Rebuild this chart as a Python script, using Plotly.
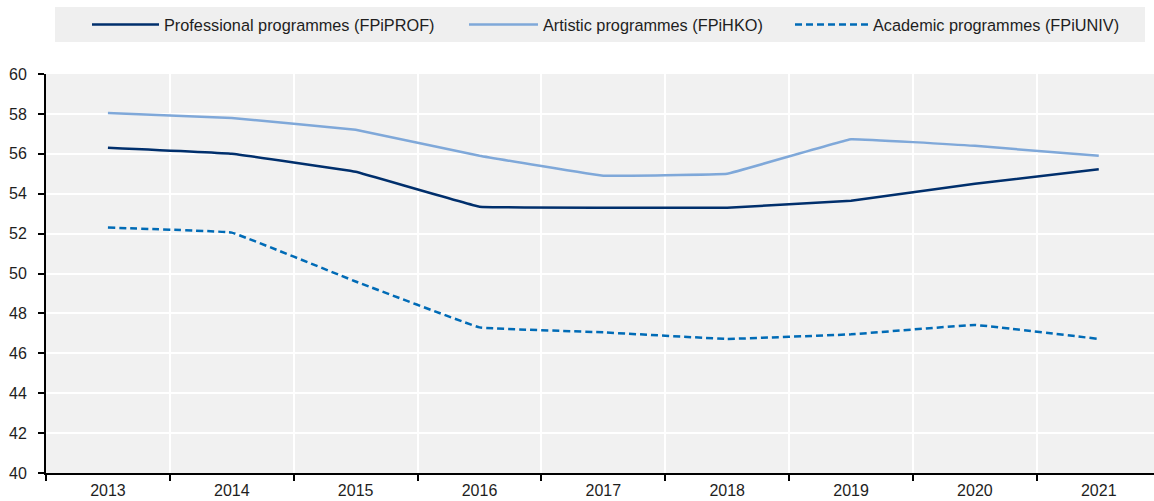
import plotly.graph_objects as go

years = ["2013", "2014", "2015", "2016", "2017", "2018", "2019", "2020", "2021"]
professional = [56.3, 56.0, 55.1, 53.35, 53.3, 53.3, 53.65, 54.5, 55.22]
artistic = [58.05, 57.8, 57.2, 55.9, 54.9, 55.0, 56.73, 56.4, 55.9]
academic = [52.3, 52.05, 49.6, 47.3, 47.05, 46.72, 46.95, 47.42, 46.72]

names = ["Professional programmes (FPiPROF)", "Artistic programmes (FPiHKO)", "Academic programmes (FPiUNIV)"]
y_ticks = list(range(40, 61, 2))

W, H = 1154, 501
ML, MT, MB = 46, 74, 28
PW, PH = W - ML, H - MT - MB


def px_x(px):
    return (px - ML) / PW


def px_y(py):
    return (H - MB - py) / PH


fig = go.Figure()
fig.add_trace(go.Scatter(x=years, y=professional, name=names[0], mode="lines", legend="legend",
                         line=dict(color="#002F6C", width=2.5, shape="spline", smoothing=0.15)))
fig.add_trace(go.Scatter(x=years, y=artistic, name=names[1], mode="lines", legend="legend2",
                         line=dict(color="#7FA8D9", width=2.5, shape="spline", smoothing=0.15)))
fig.add_trace(go.Scatter(x=years, y=academic, name=names[2], mode="lines", legend="legend3",
                         line=dict(color="#006BB6", width=2.5, dash="7px,4px", shape="spline", smoothing=0.15)))

fig.add_shape(type="rect", xref="paper", yref="paper", x0=px_x(55), x1=px_x(1145), y0=px_y(42), y1=px_y(7),
              fillcolor="#EFEFEF", line=dict(width=0), layer="below")

leg_common = dict(orientation="h", xanchor="left", yanchor="middle", y=px_y(25),
                  bgcolor="rgba(0,0,0,0)", font=dict(size=16.3, color="#1E1E1E"))

fig.update_layout(
    width=W, height=H,
    margin=dict(l=ML, r=0, t=MT, b=MB),
    paper_bgcolor="white",
    plot_bgcolor="#F1F1F1",
    font=dict(family="Liberation Sans, Arial, sans-serif", size=16, color="#1E1E1E"),
    showlegend=True,
    legend=dict(x=px_x(87), itemwidth=67, **leg_common),
    legend2=dict(x=px_x(464), itemwidth=69, **leg_common),
    legend3=dict(x=px_x(790), itemwidth=73, **leg_common),
    xaxis=dict(type="category", range=[-0.5, 8.446], tickson="boundaries",
               showgrid=True, gridcolor="white", gridwidth=2,
               showline=True, linecolor="black", linewidth=2,
               ticks="outside", ticklen=6, tickcolor="black", tickwidth=2,
               ticklabelstandoff=2, tickfont=dict(size=16), fixedrange=True),
    yaxis=dict(range=[40, 60], tickvals=y_ticks, showgrid=True, gridcolor="white", gridwidth=2,
               showline=True, linecolor="black", linewidth=2,
               ticks="outside", ticklen=6, tickcolor="black", tickwidth=2,
               ticklabelstandoff=8, tickfont=dict(size=16), zeroline=False, fixedrange=True),
)

fig.write_html("out.html", config={"displayModeBar": False},
               post_script="document.body.style.margin='0';document.body.style.padding='0';")
